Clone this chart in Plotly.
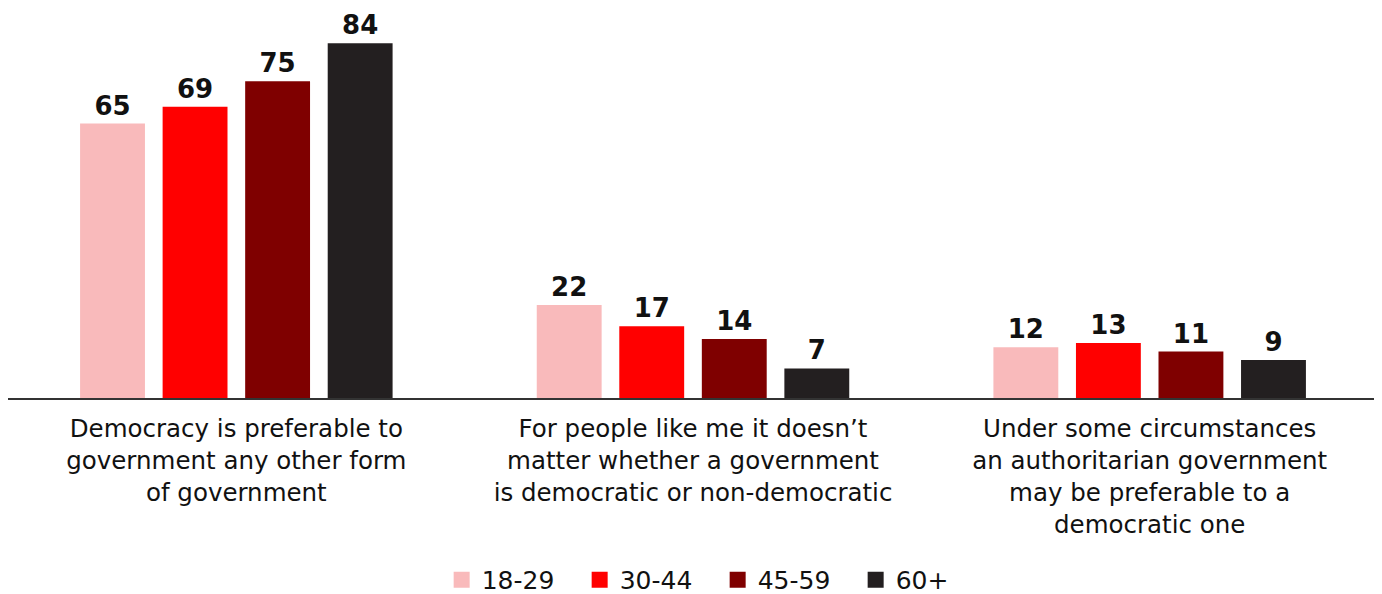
import plotly.graph_objects as go

categories = [
    "Democracy is preferable to<br>government any other form<br>of government",
    "For people like me it doesn’t<br>matter whether a government<br>is democratic or non-democratic",
    "Under some circumstances<br>an authoritarian government<br>may be preferable to a<br>democratic one",
]
series_names = ["18-29", "30-44", "45-59", "60+"]
values = {
    "18-29": [65, 22, 12],
    "30-44": [69, 17, 13],
    "45-59": [75, 14, 11],
    "60+": [84, 7, 9],
}
colors = {"18-29": "#F9BABB", "30-44": "#FF0000", "45-59": "#7F0000", "60+": "#231F20"}

FONT = "DejaVu Sans"
fig = go.Figure()
for name in series_names:
    fig.add_trace(go.Bar(
        x=categories, y=values[name], name=name,
        marker=dict(color=colors[name], line=dict(width=0)),
        text=values[name], textposition="outside", texttemplate="<b>%{text}</b>",
        textfont=dict(family=FONT, size=26, color="#111111"),
        cliponaxis=False, showlegend=False,
    ))
for name in series_names:
    fig.add_trace(go.Scatter(
        x=[None], y=[None], mode="markers", name=name,
        marker=dict(symbol="square", size=19, color=colors[name]),
        showlegend=True,
    ))

fig.update_layout(
    width=1374, height=586,
    margin=dict(l=0, r=4, t=10, b=196, autoexpand=False),
    paper_bgcolor="white", plot_bgcolor="white",
    barmode="group", bargap=0.277, bargroupgap=0.214,
    font=dict(family=FONT, size=24.5, color="#111111"),
    xaxis=dict(showline=True, linecolor="#333333", linewidth=1.5, ticks="",
               automargin=False, ticklabelstandoff=8,
               tickfont=dict(family=FONT, size=24.5, color="#111111"), showgrid=False),
    yaxis=dict(range=[0, 90], visible=False, showgrid=False, zeroline=False,
               automargin=False),
    legend=dict(orientation="h", x=0.518, xanchor="center",
                yref="container", y=0.024, yanchor="middle",
                font=dict(family=FONT, size=25, color="#111111"),
                itemwidth=30, tracegroupgap=0,
                entrywidth=93, entrywidthmode="pixels"),
)
fig.write_html("out.html")
